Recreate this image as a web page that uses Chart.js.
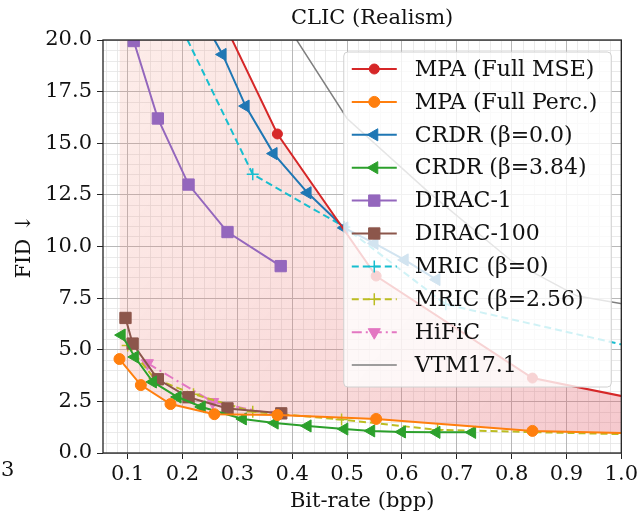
<!DOCTYPE html>
<html>
<head>
<meta charset="utf-8">
<script src="https://cdn.jsdelivr.net/npm/chart.js@4.4.1/dist/chart.umd.min.js"></script>
<style>
  html, body { margin: 0; padding: 0; background: #fff; }
  canvas { display: block; }
</style>
</head>
<body>
<canvas id="rdChart" width="641" height="515"></canvas>
<script>
// tick labels
const xTickValues = [0.1, 0.2, 0.3, 0.4, 0.5, 0.6, 0.7, 0.8, 0.9, 1.0];
const yTickValues = [0.0, 2.5, 5.0, 7.5, 10.0, 12.5, 15.0, 17.5, 20.0];

// MPA (same bit-rates for both ends of the range)
const mpaRate = [0.085, 0.124, 0.178, 0.258, 0.373, 0.553, 0.838, 1.25];
const mpaMseFid = [52.0, 38.0, 29.0, 21.8, 15.45, 8.57, 3.63, 1.42];
const mpaPercFid = [4.55, 3.29, 2.37, 1.88, 1.84, 1.65, 1.07, 0.82];

// CRDR
const crdr0Rate = [0.21, 0.273, 0.315, 0.366, 0.428, 0.495, 0.55, 0.605, 0.663];
const crdr0Fid = [22.3, 19.3, 16.8, 14.5, 12.6, 10.9, 10.15, 9.35, 8.4];
const crdr384Rate = [0.089, 0.113, 0.146, 0.191, 0.235, 0.31, 0.368, 0.428, 0.495, 0.544, 0.6, 0.663, 0.728];
const crdr384Fid = [5.71, 4.65, 3.44, 2.71, 2.23, 1.65, 1.45, 1.31, 1.16, 1.07, 1.02, 1.0, 1.0];

// DIRAC
const dirac1Rate = [0.111, 0.155, 0.211, 0.282, 0.379];
const dirac1Fid = [19.95, 16.2, 13.0, 10.7, 9.05];
const dirac100Rate = [0.096, 0.109, 0.155, 0.211, 0.282, 0.38];
const dirac100Fid = [6.54, 5.3, 3.57, 2.7, 2.16, 1.92];

// MRIC
const mric0Rate = [0.2, 0.328, 0.495, 0.68, 1.2];
const mric0Fid = [20.5, 13.5, 10.95, 7.2, 4.05];
const mric256Rate = [0.1, 0.149, 0.22, 0.328, 0.49, 0.665, 1.1];
const mric256Fid = [5.2, 3.6, 2.85, 2.0, 1.62, 1.12, 0.85];

// HiFiC and VTM
const hificRate = [0.136, 0.255, 0.372];
const hificFid = [4.35, 2.47, 1.85];
const vtmRate = [0.35, 0.5, 0.65, 0.8, 0.92, 1.2];
const vtmFid = [22.4, 16.2, 12.6, 9.3, 7.6, 6.3];

const serif = "'DejaVu Serif', serif";

function pts(rates, fids) {
    return rates.map((r, i) => ({ x: r, y: fids[i] }));
}

function regionFill(context) {
    const chart = context.chart;
    const area = chart.chartArea;
    if (!area) return "rgba(235,120,120,0.2)";
    const g = chart.ctx.createLinearGradient(area.left, area.top, area.right, area.bottom);
    g.addColorStop(0, "rgba(245,150,130,0.17)");
    g.addColorStop(1, "rgba(225,90,105,0.33)");
    return g;
}

function series(label, rates, fids, color, style) {
    return Object.assign({
        label: label,
        data: pts(rates, fids),
        borderColor: color,
        backgroundColor: color,
        pointBackgroundColor: color,
        pointBorderColor: color,
        borderWidth: 2,
        pointBorderWidth: 1,
        tension: 0,
        fill: false
    }, style);
}

const datasets = [
    series("MPA (Full MSE)", mpaRate, mpaMseFid, "#d62728", {
        pointStyle: "circle", pointRadius: 5,
        fill: { target: "+1" }, backgroundColor: regionFill
    }),
    series("MPA (Full Perc.)", mpaRate, mpaPercFid, "#ff7f0e", { pointStyle: "circle", pointRadius: 5.5 }),
    series("CRDR (\u03b2=0.0)", crdr0Rate, crdr0Fid, "#1f77b4", { pointStyle: "triangle", pointRotation: -90, pointRadius: 7 }),
    series("CRDR (\u03b2=3.84)", crdr384Rate, crdr384Fid, "#2ca02c", { pointStyle: "triangle", pointRotation: -90, pointRadius: 7 }),
    series("DIRAC-1", dirac1Rate, dirac1Fid, "#9467bd", { pointStyle: "rect", pointRadius: 8 }),
    series("DIRAC-100", dirac100Rate, dirac100Fid, "#8c564b", { pointStyle: "rect", pointRadius: 8 }),
    series("MRIC (\u03b2=0)", mric0Rate, mric0Fid, "#17becf", {
        pointStyle: "cross", pointRadius: 6, pointBorderWidth: 1.5, borderDash: [7, 4]
    }),
    series("MRIC (\u03b2=2.56)", mric256Rate, mric256Fid, "#bcbd22", {
        pointStyle: "cross", pointRadius: 6, pointBorderWidth: 1.5, borderDash: [7, 4]
    }),
    series("HiFiC", hificRate, hificFid, "#e377c2", {
        pointStyle: "triangle", pointRotation: 180, pointRadius: 7, borderDash: [10, 4, 2, 4]
    }),
    series("VTM17.1", vtmRate, vtmFid, "#7f7f7f", { pointRadius: 0, borderWidth: 1.5 })
];

function isMultiple(v, step) {
    const q = v / step;
    return Math.abs(q - Math.round(q)) < 1e-6;
}

const framePlugin = {
    id: "frame",
    beforeDraw(chart) {
        // minor grid
        const { ctx, chartArea: a, scales } = chart;
        ctx.save();
        ctx.strokeStyle = "#e4e4e4";
        ctx.lineWidth = 0.8;
        ctx.beginPath();
        for (let v = 0.06; v < scales.x.max; v += 0.02) {
            if (isMultiple(v, 0.1)) continue;
            const px = Math.round(scales.x.getPixelForValue(v)) + 0.5;
            ctx.moveTo(px, a.top);
            ctx.lineTo(px, a.bottom);
        }
        for (let v = 0.5; v < scales.y.max; v += 0.5) {
            if (isMultiple(v, 2.5)) continue;
            const py = Math.round(scales.y.getPixelForValue(v)) + 0.5;
            ctx.moveTo(a.left, py);
            ctx.lineTo(a.right, py);
        }
        ctx.stroke();
        ctx.restore();
    },
    afterDatasetsDraw(chart) {
        const { ctx, chartArea: a } = chart;
        ctx.save();
        ctx.strokeStyle = "#222";
        ctx.lineWidth = 1.3;
        ctx.strokeRect(a.left, a.top, a.right - a.left, a.bottom - a.top);

        // legend inside the axes
        ctx.font = "22px " + serif;
        const rowH = 32.9;
        let textW = 0;
        chart.data.datasets.forEach(ds => { textW = Math.max(textW, ctx.measureText(ds.label).width); });
        const boxW = 8 + 45 + 18 + textW + 14;
        const boxH = rowH * chart.data.datasets.length + 6;
        const bx = a.right - 10 - boxW;
        const by = a.top + 12;
        ctx.beginPath();
        ctx.roundRect(bx, by, boxW, boxH, 4);
        ctx.fillStyle = "rgba(255,255,255,0.8)";
        ctx.fill();
        ctx.strokeStyle = "#d0d0d0";
        ctx.lineWidth = 1;
        ctx.stroke();

        chart.data.datasets.forEach((ds, i) => {
            const cy = by + 17 + i * rowH;
            const x0 = bx + 8, x1 = x0 + 45;
            ctx.save();
            ctx.strokeStyle = ds.borderColor;
            ctx.lineWidth = ds.borderWidth;
            ctx.setLineDash(ds.borderDash || []);
            ctx.beginPath();
            ctx.moveTo(x0, cy);
            ctx.lineTo(x1, cy);
            ctx.stroke();
            ctx.setLineDash([]);
            if (ds.pointRadius > 0) {
                ctx.fillStyle = ds.pointBackgroundColor;
                ctx.strokeStyle = ds.pointBorderColor;
                ctx.lineWidth = ds.pointBorderWidth;
                Chart.helpers.drawPoint(ctx, {
                    pointStyle: ds.pointStyle,
                    rotation: ds.pointRotation || 0,
                    radius: ds.pointRadius,
                    borderWidth: ds.pointBorderWidth
                }, (x0 + x1) / 2, cy);
            }
            ctx.restore();
            ctx.fillStyle = "#111";
            ctx.textBaseline = "middle";
            ctx.textAlign = "left";
            ctx.fillText(ds.label, x1 + 18, cy + 1);
        });
        ctx.restore();
    },
    afterDraw(chart) {
        const { ctx, chartArea: a } = chart;
        ctx.save();
        ctx.fillStyle = "#111";
        ctx.font = "21px " + serif;
        ctx.textAlign = "center";
        ctx.textBaseline = "middle";
        ctx.fillText("CLIC (Realism)", (a.left + a.right) / 2 + 10, 19);
        // edge of the neighbouring panel's tick label
        ctx.textAlign = "left";
        ctx.fillText("3", 1, 471);
        ctx.restore();
    }
};

new Chart(document.getElementById("rdChart"), {
    type: "line",
    data: { datasets: datasets },
    plugins: [framePlugin],
    options: {
        responsive: false,
        animation: false,
        devicePixelRatio: 1,
        layout: { padding: { top: 40, right: 18, left: 0, bottom: 0 } },
        plugins: {
            legend: { display: false },
            tooltip: { enabled: false },
            filler: { drawTime: "beforeDatasetsDraw" }
        },
        scales: {
            x: {
                type: "linear",
                min: 0.055,
                max: 1.0,
                afterBuildTicks: axis => { axis.ticks = xTickValues.map(v => ({ value: v })); },
                afterFit: axis => { axis.height = 62; },
                ticks: {
                    color: "#111",
                    padding: 3,
                    maxRotation: 0,
                    autoSkip: false,
                    font: { family: serif, size: 21 },
                    callback: v => v.toFixed(1)
                },
                grid: { color: "#b8b8b8", lineWidth: 1, tickLength: 6, tickColor: "#222" },
                border: { display: false },
                title: {
                    display: true,
                    text: "Bit-rate (bpp)",
                    color: "#111",
                    font: { family: serif, size: 21 },
                    padding: { top: 0, bottom: 1 }
                }
            },
            y: {
                min: 0,
                max: 20,
                afterBuildTicks: axis => { axis.ticks = yTickValues.map(v => ({ value: v })); },
                afterFit: axis => { axis.width = 103; },
                ticks: {
                    color: "#111",
                    padding: 5,
                    autoSkip: false,
                    font: { family: serif, size: 21 },
                    callback: v => v.toFixed(1)
                },
                grid: { color: "#b8b8b8", lineWidth: 1, tickLength: 6, tickColor: "#222" },
                border: { display: false },
                title: {
                    display: true,
                    text: "FID \u2193",
                    color: "#111",
                    font: { family: serif, size: 21 },
                    padding: { top: 12, bottom: 0 }
                }
            }
        }
    }
});
</script>
</body>
</html>
